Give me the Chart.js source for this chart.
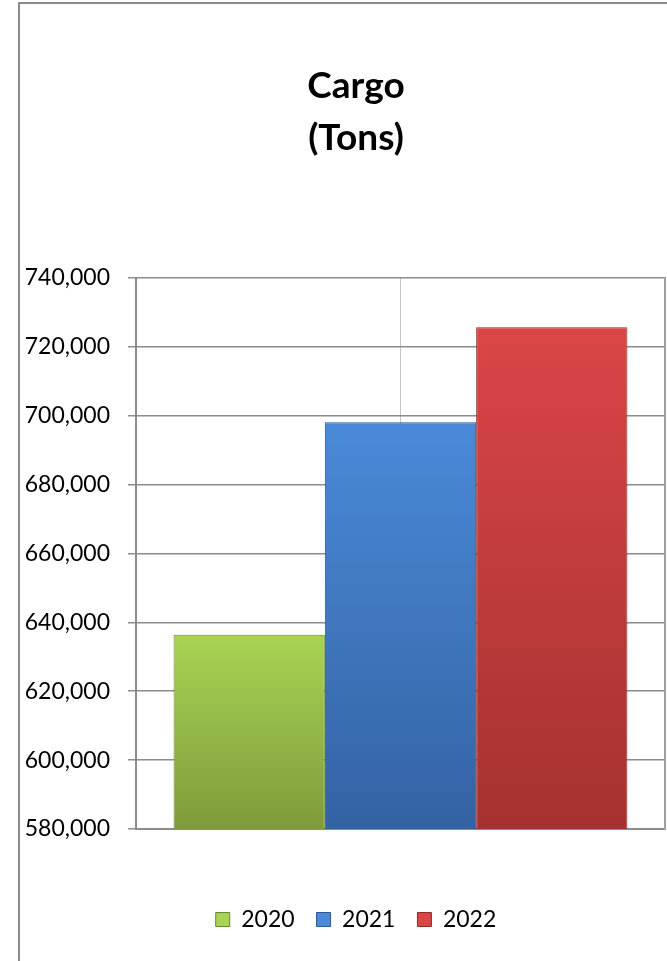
<!DOCTYPE html>
<html>
<head>
<meta charset="utf-8">
<script src="https://cdn.jsdelivr.net/npm/chart.js@4"></script>
<style>
  html, body { margin: 0; padding: 0; background: #fff; overflow: hidden; }
  #wrap { position: relative; width: 667px; height: 961px; overflow: hidden; }
  #frame {
    position: absolute; left: 18px; top: 2px; width: 760px; height: 1000px;
    border: 2px solid #8c8c8c; box-sizing: border-box;
  }
  #myChart { position: absolute; left: 0; top: 0; }
</style>
</head>
<body>
<div id="wrap">
  <div id="frame"></div>
  <canvas id="myChart" width="712" height="961"></canvas>
</div>
<script>
// data
const categories = [""];
const years = ["2020", "2021", "2022"];
const cargo2020 = [636400];
const cargo2021 = [698100];
const cargo2022 = [725700];
const yMin = 580000;
const yMax = 740000;
const yStep = 20000;

// colours: top of bar, bottom of bar, edge
const topColors = ["#a9d354", "#4a8ad8", "#da4646"];
const bottomColors = ["#7e9b3a", "#3462a3", "#a53131"];
const edgeColors = ["#6c8630", "#2d568f", "#8e2a2a"];

const barFill = (i) => (context) => {
  const chart = context.chart;
  const area = chart.chartArea;
  if (!area) return topColors[i];
  const top = chart.scales.y.getPixelForValue(context.raw);
  const g = chart.ctx.createLinearGradient(0, top, 0, area.bottom);
  g.addColorStop(0, topColors[i]);
  g.addColorStop(1, bottomColors[i]);
  return g;
};

const series = [cargo2020, cargo2021, cargo2022];

const ctx = document.getElementById("myChart");

new Chart(ctx, {
  type: "bar",
  data: {
    labels: categories,
    datasets: series.map((values, i) => ({
      label: years[i],
      data: values,
      backgroundColor: barFill(i),
      borderColor: edgeColors[i],
      borderWidth: 1,
      categoryPercentage: 0.858,
      barPercentage: 1,
    })),
  },
  options: {
    responsive: false,
    animation: false,
    layout: {
      // canvas is wider than the window, the right part is cut off like the original
      padding: { left: 0, right: 0, top: 0, bottom: 20 },
    },
    scales: {
      x: {
        grid: {
          offset: false, // line through the middle of the category
          color: "#c4c4c4",
          lineWidth: 1,
          drawTicks: false,
        },
        border: { color: "#8c8c8c", width: 2 },
        ticks: { display: false },
        afterFit: (scale) => { scale.height = 57; },
      },
      y: {
        min: yMin,
        max: yMax,
        ticks: {
          stepSize: yStep,
          padding: 18,
          color: "#000",
          font: { family: "Lato, sans-serif", size: 23 },
          callback: (v) => v.toLocaleString("en-US"),
        },
        grid: {
          color: "#8c8c8c",
          lineWidth: 1.5,
          tickLength: 8,
        },
        border: { color: "#8c8c8c", width: 2 },
        afterFit: (scale) => { scale.width = 136; },
      },
      y2: {
        position: "right",
        min: yMin,
        max: yMax,
        ticks: { display: false },
        grid: { drawOnChartArea: false, drawTicks: false },
        border: { color: "#a0a0a0", width: 2 },
        afterFit: (scale) => { scale.width = 47; },
      },
    },
    plugins: {
      title: {
        display: true,
        text: ["Cargo", "(Tons)"],
        color: "#000",
        font: { family: "Lato, sans-serif", size: 37, weight: "bold", lineHeight: 1.405 },
        padding: { top: 60, bottom: 114 },
      },
      legend: {
        position: "bottom",
        labels: {
          color: "#000",
          boxWidth: 14,
          boxHeight: 14,
          padding: 22,
          font: { family: "Lato, sans-serif", size: 23 },
          generateLabels: (chart) =>
            chart.data.datasets.map((ds, i) => ({
              text: ds.label,
              fillStyle: topColors[i],
              strokeStyle: edgeColors[i],
              lineWidth: 1,
              datasetIndex: i,
              fontColor: "#000",
            })),
        },
      },
      tooltip: { enabled: false },
    },
  },
});
</script>
</body>
</html>
